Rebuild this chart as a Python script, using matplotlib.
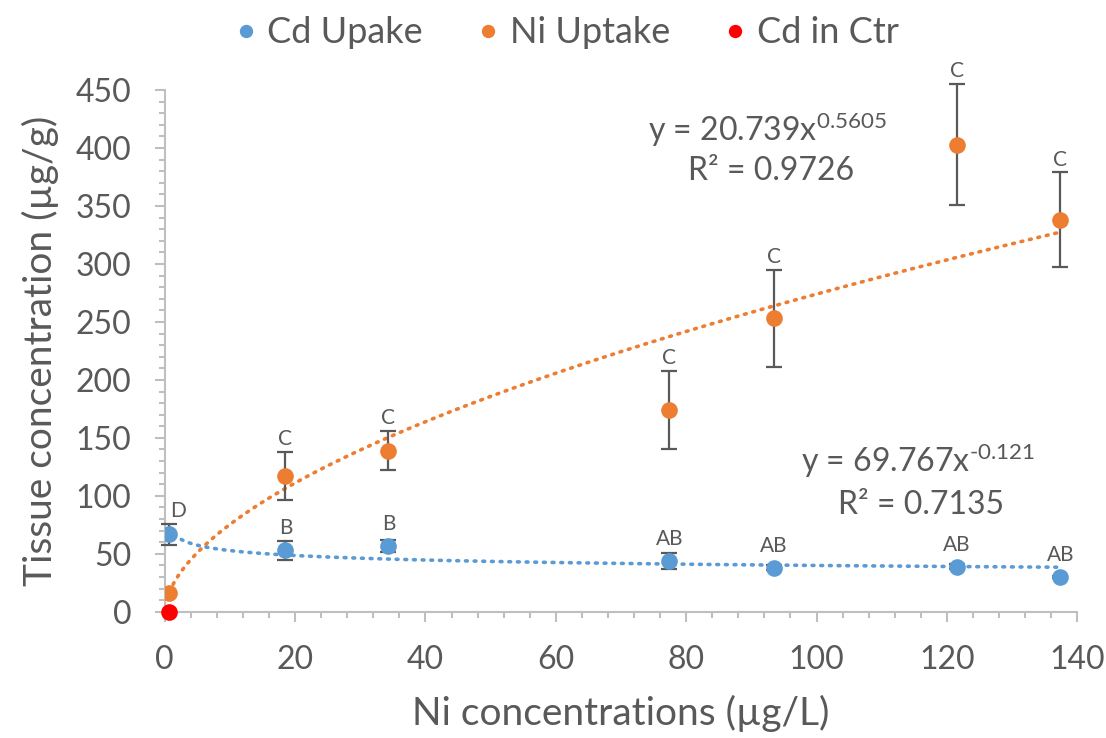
import numpy as np
import matplotlib
matplotlib.use("Agg")
import matplotlib.pyplot as plt
from matplotlib.ticker import MultipleLocator

plt.rcParams['font.family'] = ['Lato', 'DejaVu Sans']
plt.rcParams['mathtext.fontset'] = 'custom'
plt.rcParams['mathtext.rm'] = 'Lato'
plt.rcParams['mathtext.it'] = 'Lato:italic'
plt.rcParams['mathtext.bf'] = 'Lato:bold'

# Ni concentration in solution (µg/L)
ni_conc = [0.7, 18.5, 34.3, 77.4, 93.5, 121.5, 137.4]

# Cd uptake (µg/g) with SD and letter groups
cd_uptake = [67, 53, 57, 44, 38, 39, 30]
cd_err = [9, 8, 5, 7, 2, 2, 1]
cd_groups = ["D", "B", "B", "AB", "AB", "AB", "AB"]

# Ni uptake (µg/g) with SD and letter groups
ni_uptake = [16, 117, 139, 174, 253, 403, 338]
ni_err = [0, 21, 17, 34, 42, 52, 41]
ni_groups = ["", "C", "C", "C", "C", "C", "C"]

# Control
ctr_conc = [0.7]
ctr_cd = [0]

# Power-law trend coefficients
ni_fit = (20.739, 0.5605, 0.9726)
cd_fit = (69.767, -0.121, 0.7135)

blue = "#5B9BD5"
orange = "#ED7D31"
red = "#FF0000"
grey_txt = "#595959"
axis_grey = "#BFBFBF"

fig = plt.figure(figsize=(11.06, 7.38), dpi=100)
ax = fig.add_axes([0.149, 0.171, 0.825, 0.707])

x = np.array(ni_conc)
xs = np.linspace(x.min(), x.max(), 300)

# Trendlines
ax.plot(xs, ni_fit[0] * xs ** ni_fit[1], color=orange, lw=2.6,
        linestyle=(0, (0.5, 1.9)), dash_capstyle='round', zorder=2)
ax.plot(xs, cd_fit[0] * xs ** cd_fit[1], color=blue, lw=2.6,
        linestyle=(0, (0.5, 1.9)), dash_capstyle='round', zorder=2)

# Error bars (only where an SD exists)
ekw = dict(ecolor="#595959", elinewidth=1.6, capsize=6, capthick=1.6, fmt='none', zorder=3)
for yv, ev in ((ni_uptake, ni_err), (cd_uptake, cd_err)):
    keep = [i for i, e in enumerate(ev) if e > 0]
    eb = ax.errorbar([ni_conc[i] for i in keep], [yv[i] for i in keep],
                     yerr=[ev[i] for i in keep], **ekw)
    for art in eb.lines[1] + eb.lines[2]:
        art.set_clip_on(False)

ms = 12
ax.plot(ni_conc, cd_uptake, 'o', color=blue, ms=ms, mec='none', zorder=4, label="Cd Upake")
ax.plot(ni_conc, ni_uptake, 'o', color=orange, ms=ms, mec='none', zorder=4, label="Ni Uptake")
ax.plot(ctr_conc, ctr_cd, 'o', color=red, ms=ms, mec='none', zorder=5, label="Cd in Ctr", clip_on=False)

# Letter groups above bars
for xi, yi, ei, g in zip(ni_conc, ni_uptake, ni_err, ni_groups):
    if g:
        ax.annotate(g, (xi, yi + max(ei, 8)), xytext=(0, 2), textcoords='offset points',
                    ha='center', va='bottom', fontsize=15, color=grey_txt,
                    annotation_clip=False)
for i, (xi, yi, ei, g) in enumerate(zip(ni_conc, cd_uptake, cd_err, cd_groups)):
    dx = 6 if i == 0 else 0
    ax.annotate(g, (xi, yi + max(ei, 8)), xytext=(dx, 2), textcoords='offset points',
                ha='center', va='bottom', fontsize=15, color=grey_txt,
                annotation_clip=False)

# Trend equations
eq_fs = 23
ax.text(92.5, 416, f"y = {ni_fit[0]}x$^{{\\text{{{ni_fit[1]}}}}}$", ha='center', va='center',
        fontsize=eq_fs, color=grey_txt)
ax.text(93, 380, f"R² = {ni_fit[2]}", ha='center', va='center', fontsize=eq_fs, color=grey_txt)
ax.text(115.5, 130, f"y = {cd_fit[0]}x$^{{\\text{{{cd_fit[1]}}}}}$", ha='center', va='center',
        fontsize=eq_fs, color=grey_txt)
ax.text(116, 92, f"R² = {cd_fit[2]}", ha='center', va='center', fontsize=eq_fs, color=grey_txt)

ax.set_xlim(0, 140)
ax.set_ylim(0, 450)
ax.xaxis.set_major_locator(MultipleLocator(20))
ax.xaxis.set_minor_locator(MultipleLocator(4))
ax.yaxis.set_major_locator(MultipleLocator(50))
ax.yaxis.set_minor_locator(MultipleLocator(10))

for s in ['top', 'right']:
    ax.spines[s].set_visible(False)
for s in ['left', 'bottom']:
    ax.spines[s].set_color(axis_grey)
    ax.spines[s].set_linewidth(1.5)

ax.tick_params(which='major', length=7, width=1.5, color=axis_grey,
               labelsize=23, labelcolor=grey_txt, pad=17)
ax.tick_params(which='minor', length=4.5, width=1.5, color=axis_grey)

ax.set_xlabel("Ni concentrations (µg/L)", fontsize=28, color=grey_txt, labelpad=14)
ax.set_ylabel("Tissue concentration (µg/g)", fontsize=28, color=grey_txt, labelpad=12)

leg = fig.legend(loc='upper center', bbox_to_anchor=(0.51, 1.022), ncol=3, frameon=False,
                 fontsize=26, markerscale=0.8, handletextpad=0.15, columnspacing=1.35,
                 handlelength=0.9, labelcolor=grey_txt)

fig.savefig("out.png", dpi=100)
